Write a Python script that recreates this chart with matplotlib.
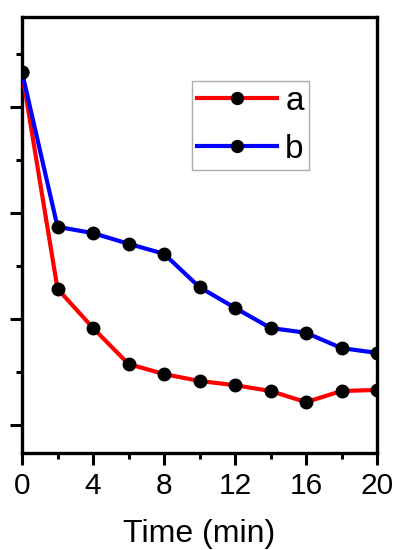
import matplotlib
matplotlib.use("Agg")
import matplotlib.pyplot as plt
from matplotlib.ticker import MultipleLocator

plt.rcParams['font.family'] = ['Liberation Sans', 'DejaVu Sans']

# Time points (min) and the two series
time = [0, 2, 4, 6, 8, 10, 12, 14, 16, 18, 20]
series_a = [0.866, 0.457, 0.383, 0.315, 0.296, 0.283, 0.275, 0.264, 0.243, 0.264, 0.266]
series_b = [0.866, 0.574, 0.562, 0.542, 0.523, 0.460, 0.421, 0.383, 0.374, 0.345, 0.336]
x_ticks = [0, 4, 8, 12, 16, 20]

fig = plt.figure(figsize=(3.98, 5.5), dpi=100)
ax = fig.add_axes([22 / 398, (550 - 453) / 550, (377 - 22) / 398, (453 - 17) / 550])

ax.plot(time, series_a, color='#ff0000', lw=3.0, marker='o', ms=9,
        mfc='black', mec='black', label='a', zorder=3)
ax.plot(time, series_b, color='#0000ff', lw=3.0, marker='o', ms=9,
        mfc='black', mec='black', label='b', zorder=3)

ax.set_xlim(0, 20)
ax.set_ylim(0.147, 0.970)
ax.set_xticks(x_ticks)
ax.xaxis.set_minor_locator(MultipleLocator(2))
ax.yaxis.set_major_locator(MultipleLocator(0.2))
ax.yaxis.set_minor_locator(MultipleLocator(0.1))
ax.set_yticklabels([])

for side in ax.spines.values():
    side.set_linewidth(2.4)
ax.tick_params(which='major', direction='out', length=8.5, width=2.2, labelsize=21.5, pad=5)
ax.tick_params(which='minor', direction='out', length=4.5, width=2.2)

ax.set_xlabel('Time (min)', fontsize=23, labelpad=14)

leg = ax.legend(loc='upper left', bbox_to_anchor=((192 - 22) / 355, (453 - 81) / 436),
                fontsize=24, frameon=True, fancybox=False, handlelength=2.4,
                handletextpad=0.25, borderpad=0.15, labelspacing=0.5, borderaxespad=0,
                markerscale=0.95)
leg.get_frame().set_edgecolor('#999999')
leg.get_frame().set_linewidth(1.0)

fig.savefig('out.png', dpi=100)
